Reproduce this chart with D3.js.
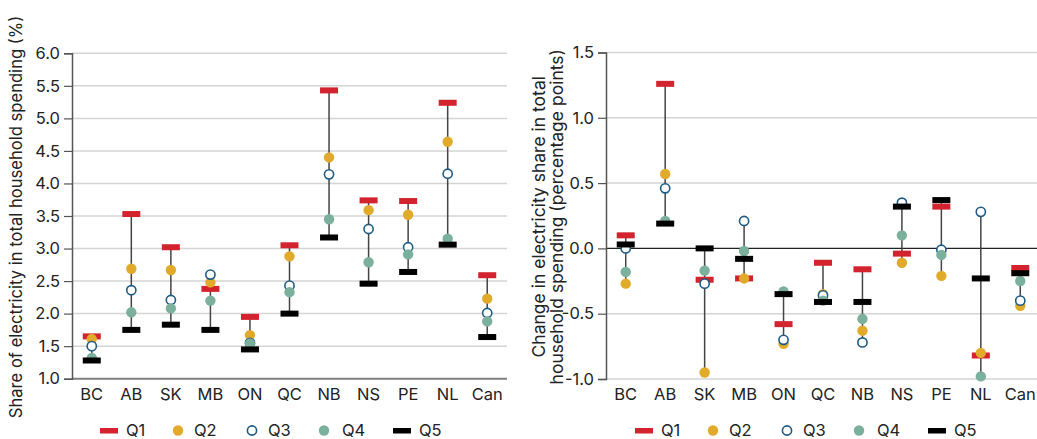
<!DOCTYPE html>
<html><head><meta charset="utf-8">
<script src="https://cdn.jsdelivr.net/npm/d3@7"></script>
<style>body{margin:0;background:#fff}svg{display:block;font-family:Inter,"Open Sans",sans-serif}</style>
</head><body><svg id="c" width="1037" height="439"></svg>
<script>
const categories = ["BC","AB","SK","MB","ON","QC","NB","NS","PE","NL","Can"];
const seriesNames = ["Q1","Q2","Q3","Q4","Q5"];
// Left: share of electricity in total household spending (%)
const shareQ1 = [1.65,3.53,3.02,2.38,1.95,3.05,5.43,3.74,3.73,5.24,2.59];
const shareQ2 = [1.61,2.69,2.67,2.48,1.67,2.88,4.40,3.59,3.52,4.64,2.23];
const shareQ3 = [1.50,2.36,2.21,2.60,1.55,2.43,4.14,3.30,3.02,4.15,2.01];
const shareQ4 = [1.32,2.02,2.08,2.20,1.54,2.33,3.45,2.79,2.91,3.15,1.88];
const shareQ5 = [1.28,1.75,1.83,1.75,1.45,2.00,3.17,2.46,2.64,3.06,1.64];
// Right: change in electricity share (percentage points)
const changeQ1 = [0.10,1.26,-0.24,-0.23,-0.58,-0.11,-0.16,-0.04,0.32,-0.82,-0.15];
const changeQ2 = [-0.27,0.57,-0.95,-0.23,-0.73,-0.35,-0.63,-0.11,-0.21,-0.80,-0.44];
const changeQ3 = [0.00,0.46,-0.27,0.21,-0.70,-0.36,-0.72,0.35,-0.01,0.28,-0.40];
const changeQ4 = [-0.18,0.21,-0.17,-0.02,-0.33,-0.40,-0.54,0.10,-0.05,-0.98,-0.25];
const changeQ5 = [0.03,0.19,0.00,-0.08,-0.35,-0.41,-0.41,0.32,0.37,-0.23,-0.19];
const leftTicks = [1.0,1.5,2.0,2.5,3.0,3.5,4.0,4.5,5.0,5.5,6.0];
const rightTicks = [-1.0,-0.5,0.0,0.5,1.0,1.5];
const leftTitle = ["Share of electricity in total household spending (%)"];
const rightTitle = ["Change in electricity share in total","household spending (percentage points)"];

const colors = {Q1:"#d2232e",Q2:"#e2aa2b",Q3:"#1d5b85",Q4:"#7ab09c",Q5:"#000000"};
const svg = d3.select("#c");
const fmt = d => d3.format(".1f")(d).replace("\u2212","-");

function panel(opt){
  const g = svg.append("g");
  const x = d3.scalePoint().domain(categories).range(opt.xr).padding(0.5);
  const y = d3.scaleLinear().domain(opt.yd).range(opt.yr);
  g.selectAll("line.grid").data(opt.ticks).join("line")
    .attr("x1",opt.xr[0]).attr("x2",opt.gridEnd)
    .attr("y1",d=>y(d)).attr("y2",d=>y(d))
    .attr("stroke",d=> d===0 && opt.zeroDark ? "#222" : "#d4d4d4")
    .attr("stroke-width",d=> d===0 && opt.zeroDark ? 1.2 : 1.5);
  if(opt.bottomAxis){
    g.append("line").attr("x1",opt.xr[0]).attr("x2",opt.gridEnd)
      .attr("y1",y(opt.yd[0])).attr("y2",y(opt.yd[0]))
      .attr("stroke","#808080").attr("stroke-width",2);
  }
  const ax = g.append("g").attr("transform",`translate(${opt.xr[0]},0)`)
    .call(d3.axisLeft(y).tickValues(opt.ticks).tickFormat(fmt).tickSize(8).tickPadding(4));
  ax.select(".domain").attr("stroke","#555").attr("stroke-width",1.5);
  ax.selectAll(".tick line").attr("stroke","#555").attr("stroke-width",1.2);
  ax.selectAll("text").attr("font-size",16.5).attr("fill","#222").attr("font-family","Inter, sans-serif");
  g.selectAll("text.cat").data(categories).join("text")
    .attr("x",d=>x(d)).attr("y",opt.yr[0]+21).attr("text-anchor","middle")
    .attr("font-size",16.5).attr("fill","#222").text(d=>d);
  const rows = categories.map((c,i)=>({c, v:opt.series.map(s=>s[i])}));
  g.selectAll("line.rng").data(rows).join("line")
    .attr("x1",d=>x(d.c)).attr("x2",d=>x(d.c))
    .attr("y1",d=>y(d3.max(d.v))).attr("y2",d=>y(d3.min(d.v)))
    .attr("stroke","#444").attr("stroke-width",1.5);
  opt.series.forEach((s,k)=>{
    const name = seriesNames[k];
    const sg = g.append("g");
    if(name==="Q1"||name==="Q5"){
      sg.selectAll("rect").data(s).join("rect")
        .attr("x",(d,i)=>x(categories[i])-9).attr("y",d=>y(d)-3)
        .attr("width",18).attr("height",6).attr("fill",colors[name]);
    } else if(name==="Q3"){
      sg.selectAll("circle").data(s).join("circle")
        .attr("cx",(d,i)=>x(categories[i])).attr("cy",d=>y(d)).attr("r",4.6)
        .attr("fill","#fff").attr("stroke",colors[name]).attr("stroke-width",1.6);
    } else {
      sg.selectAll("circle").data(s).join("circle")
        .attr("cx",(d,i)=>x(categories[i])).attr("cy",d=>y(d)).attr("r",5.2)
        .attr("fill",colors[name]);
    }
  });
  const cy = (opt.yr[0]+opt.yr[1])/2 + 1;
  const t = g.append("text").attr("transform",`translate(${opt.titleX},${cy}) rotate(-90)`)
    .attr("text-anchor","middle").attr("font-size",opt.titleSize).attr("fill","#222");
  opt.title.forEach((line,i)=>t.append("tspan").attr("x",0).attr("dy",i?18:0).text(line));
  const ly = 430.5;
  const lg = g.append("g").attr("transform",`translate(${opt.legX},0)`);
  const legX = [100,178,252,324,393];
  seriesNames.forEach((name,k)=>{
    const lx = legX[k];
    if(name==="Q1"||name==="Q5"){
      lg.append("rect").attr("x",lx).attr("y",ly-2.5).attr("width",18).attr("height",5.5).attr("fill",colors[name]);
      lg.append("text").attr("x",lx+26).attr("y",ly).attr("dy","0.36em").attr("font-size",16.5).attr("fill","#222").text(name);
    } else {
      if(name==="Q3") lg.append("circle").attr("cx",lx).attr("cy",ly).attr("r",4.6).attr("fill","#fff").attr("stroke",colors[name]).attr("stroke-width",1.6);
      else lg.append("circle").attr("cx",lx).attr("cy",ly).attr("r",5.2).attr("fill",colors[name]);
      lg.append("text").attr("x",lx+(name==="Q4"?18:16)).attr("y",ly).attr("dy","0.36em").attr("font-size",16.5).attr("fill","#222").text(name);
    }
  });
}

panel({xr:[72,507], gridEnd:507, yd:[1,6], yr:[378.7,53.3], ticks:leftTicks,
  series:[shareQ1,shareQ2,shareQ3,shareQ4,shareQ5], bottomAxis:true, zeroDark:false,
  title:leftTitle, titleX:22, titleSize:16.6, legX:0});
panel({xr:[606,1040], gridEnd:1037, yd:[-1,1.5], yr:[379,52.5], ticks:rightTicks,
  series:[changeQ1,changeQ2,changeQ3,changeQ4,changeQ5], bottomAxis:false, zeroDark:true,
  title:rightTitle, titleX:545, titleSize:17.5, legX:535});
</script></body></html>
